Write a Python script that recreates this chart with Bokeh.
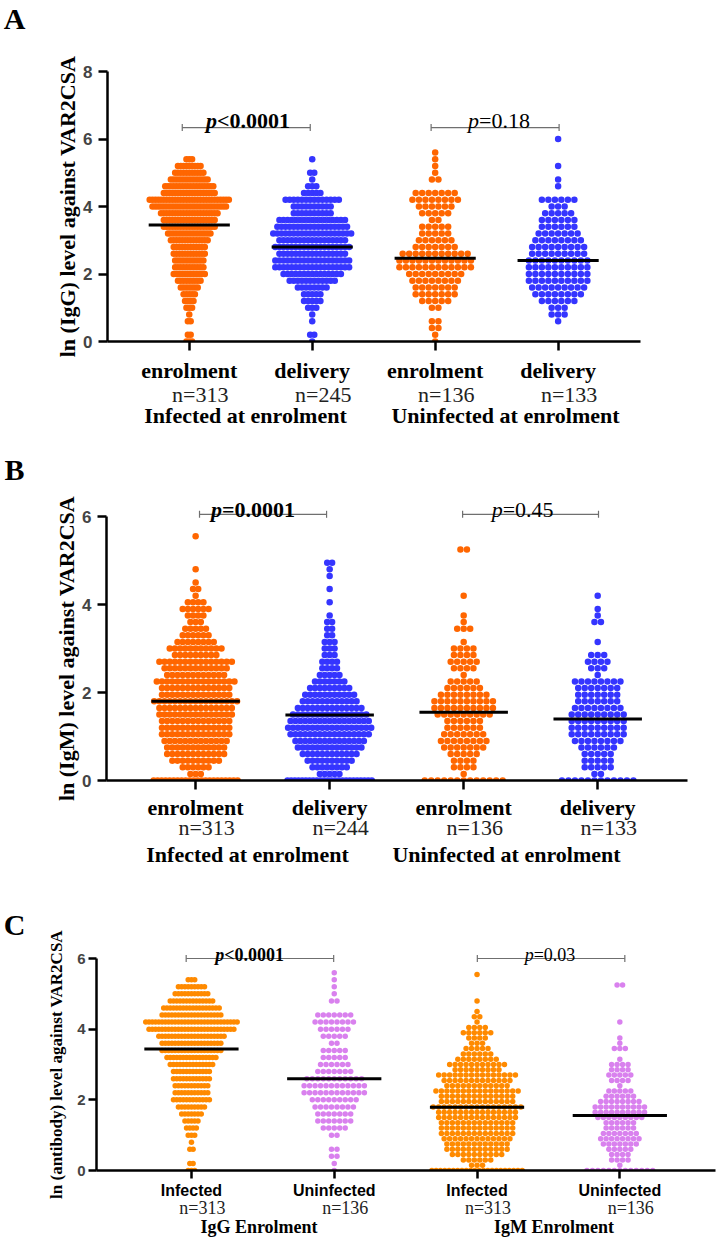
from bokeh.plotting import figure
from bokeh.models import FixedTicker, Label, LinearAxis
from bokeh.embed import file_html
from bokeh.resources import INLINE

# ---------------- data ----------------
CATS = [1, 2, 3, 4]

# IgG levels (ln) -- row values, step 0.2
A_LEVELS = [0.0, 0.2, 0.4, 0.6, 0.8, 1.0, 1.2, 1.4, 1.6, 1.8, 2.0, 2.2, 2.4, 2.6, 2.8,
            3.0, 3.2, 3.4, 3.6, 3.8, 4.0, 4.2, 4.4, 4.6, 4.8, 5.0, 5.2, 5.4, 5.6, 5.8, 6.0]
A_INF_ENROL = [3, 2, 0, 2, 1, 3, 4, 5, 7, 9, 12, 11, 11, 12, 12, 14, 16, 19, 19, 21, 27, 29,
               19, 18, 14, 11, 9, 3, 0, 0, 0]                      # n=313
A_INF_DELIV = [1, 2, 0, 1, 1, 3, 5, 5, 8, 12, 15, 19, 19, 17, 19, 17, 20, 18, 17, 10, 10, 14,
               5, 3, 1, 2, 0, 1, 0, 0, 0]                          # n=245
A_UNINF_ENROL = [1, 1, 2, 2, 0, 2, 5, 7, 7, 8, 9, 12, 12, 11, 7, 6, 5, 5, 2, 5, 6, 8, 7, 0, 2,
                 1, 1, 1, 1, 0, 0]                                 # n=136
A_UNINF_DELIV = [0, 0, 0, 1, 3, 3, 6, 8, 9, 10, 10, 10, 10, 9, 9, 8, 7, 6, 6, 5, 3, 6, 0, 1, 1,
                 0, 1, 0, 0, 0, 1]                                 # n=133
A_MEANS = [3.45, 2.80, 2.47, 2.40]

# IgM levels (ln) -- row values, step 0.15
B_LEVELS = [0.0, 0.15, 0.3, 0.45, 0.6, 0.75, 0.9, 1.05, 1.2, 1.35, 1.5, 1.65, 1.8, 1.95, 2.1,
            2.25, 2.4, 2.55, 2.7, 2.85, 3.0, 3.15, 3.3, 3.45, 3.6, 3.75, 3.9, 4.05, 4.2, 4.35,
            4.5, 4.65, 4.8, 4.95, 5.1, 5.25, 5.4, 5.55]
B_INF_ENROL = [22, 3, 6, 10, 12, 12, 13, 14, 14, 14, 15, 15, 17, 14, 14, 16, 12, 13, 15, 9,
               11, 8, 6, 5, 3, 4, 6, 4, 1, 2, 1, 0, 1, 0, 0, 0, 0, 1]   # n=313
B_INF_DELIV = [24, 5, 8, 10, 12, 14, 15, 17, 18, 17, 16, 14, 12, 11, 9, 7, 5, 4, 4, 3, 3, 3,
               2, 2, 2, 1, 0, 1, 0, 1, 0, 1, 1, 2, 0, 0, 0, 0]          # n=244
B_UNINF_ENROL = [13, 1, 4, 4, 5, 7, 8, 7, 6, 6, 9, 10, 10, 8, 6, 5, 1, 4, 5, 4, 4, 1, 0, 3, 1,
                 1, 0, 0, 1, 0, 0, 0, 0, 0, 0, 2, 0, 0]                 # n=136
B_UNINF_DELIV = [12, 2, 5, 5, 5, 6, 8, 9, 9, 9, 9, 8, 7, 7, 7, 8, 1, 3, 4, 3, 0, 1, 0, 0, 2,
                 1, 1, 0, 1, 0, 0, 0, 0, 0, 0, 0, 0, 0]                 # n=133
B_MEANS = [1.80, 1.49, 1.55, 1.40]

C_MEANS = [3.44, 2.60, 1.79, 1.56]

A_XLABELS = ["enrolment", "delivery", "enrolment", "delivery"]
A_NLABELS = ["n=313", "n=245", "n=136", "n=133"]
B_NLABELS = ["n=313", "n=244", "n=136", "n=133"]
AB_GROUPS = ["Infected at enrolment", "Uninfected at enrolment"]
C_XLABELS = ["Infected", "Uninfected", "Infected", "Uninfected"]
C_NLABELS = ["n=313", "n=136", "n=313", "n=136"]
C_GROUPS = ["IgG Enrolment", "IgM Enrolment"]

A_PVALS = ["<0.0001", "=0.18"]
B_PVALS = ["=0.0001", "=0.45"]
C_PVALS = ["<0.0001", "=0.03"]
PVAL_BOLD = [True, False]

A_BRACKETS = [(0.943, 1.984), (2.967, 4.008)]
B_BRACKETS = [(1.029, 1.977), (2.992, 4.006)]
C_BRACKETS = [(0.963, 1.996), (3.002, 4.035)]

ORANGE_AB = "#FF6600"
BLUE = "#3535FF"
ORANGE_C = "#FF8A00"
VIOLET = "#D981EE"

XSTART, XEND = 0.335, 4.67
W = 717


def swarm(levels, counts, cat, d, wmax, kx):
    nz = [c for lv, c in zip(levels, counts) if lv > 0]
    s = min(d, wmax / max(nz))
    xs, ys = [], []
    for lv, k in zip(levels, counts):
        if k == 0:
            continue
        sp = min(s, wmax / k)
        for j in range(k):
            off = (j - (k - 1) / 2.0) * sp
            xs.append(cat + off / kx)
            ys.append(lv)
    return xs, ys


def text_axis(ticks, labels, standoff, font, size, style, color, orient=None):
    ticks = [round(t, 4) for t in ticks]
    ax = LinearAxis(ticker=FixedTicker(ticks=ticks),
                    major_label_overrides={t: s for t, s in zip(ticks, labels)})
    ax.axis_line_color = None
    ax.major_tick_line_color = None
    ax.minor_tick_line_color = None
    ax.major_tick_out = 0
    ax.major_tick_in = 0
    ax.minor_tick_out = 0
    ax.major_label_standoff = standoff
    ax.major_label_text_font = font
    ax.major_label_text_font_size = size
    ax.major_label_text_font_style = style
    ax.major_label_text_color = color
    if orient is not None:
        ax.major_label_orientation = orient
    return ax


def panel(cfg):
    H, L, R, T, B = cfg["H"], cfg["L"], cfg["R"], cfg["T"], cfg["B"]
    ky = cfg["ky"]
    frame_h = H - T - B
    yend = frame_h / ky
    p = figure(width=W, height=H, x_range=(XSTART, XEND), y_range=(0, yend),
               output_backend="svg", toolbar_location=None,
               min_border_left=L, min_border_right=R, min_border_top=T, min_border_bottom=B)
    p.outline_line_color = None
    p.grid.visible = False
    p.background_fill_color = "white"
    kx = (W - L - R) / (XEND - XSTART)
    bottom_page = cfg["page_top"] + T + frame_h

    def X(px):
        return XSTART + (px - L) / kx

    def Y(py):
        return (bottom_page - py) / ky

    # points
    for (levels, counts), cat, col in zip(cfg["groups"], CATS, cfg["colors"]):
        xs, ys = swarm(levels, counts, cat, cfg["d"], cfg["wmax"], kx)
        p.scatter(xs, ys, size=cfg["d"], fill_color=col, line_color=None, marker="circle")
    # central lines
    hw = 0.33
    p.segment(x0=[c - hw for c in CATS], x1=[c + hw for c in CATS], y0=cfg["means"],
              y1=cfg["means"], line_color="black", line_width=3)
    # brackets
    by = cfg["bracket_y"]
    cap = 3.5 / ky
    for (b0, b1) in cfg["brackets"]:
        p.segment(x0=[b0, b0, b1], x1=[b1, b0, b1], y0=[by, by - cap, by - cap],
                  y1=[by, by + cap, by + cap], line_color="#6f6f6f", line_width=1.2)
    for (b0, b1), txt, bold, pc in zip(cfg["brackets"], cfg["pvals"], PVAL_BOLD, cfg["pcenter"]):
        fs = cfg["pfs"]
        tot = (0.5 + (3.32 if bold else 2.314))
        split = (-tot / 2 + 0.5) * fs
        p.add_layout(Label(x=pc, y=cfg["p_base"], x_offset=split, text="p",
                           text_align="right", text_baseline="alphabetic",
                           text_font="Liberation Serif",
                           text_font_style="bold italic" if bold else "italic",
                           text_font_size=f"{fs}px", text_color="black"))
        p.add_layout(Label(x=pc, y=cfg["p_base"], x_offset=split, text=txt,
                           text_align="left", text_baseline="alphabetic",
                           text_font="Liberation Serif",
                           text_font_style="bold" if bold else "normal",
                           text_font_size=f"{fs}px", text_color="black"))

    # value axis
    ya = p.yaxis[0]
    ya.ticker = FixedTicker(ticks=cfg["yticks"])
    ya.bounds = (0, cfg["ymax"])
    ya.axis_line_width = 2.5
    ya.major_tick_line_width = 2.5
    ya.major_tick_out = cfg["tick_out"]
    ya.major_tick_in = 0
    ya.minor_tick_line_color = None
    ya.major_label_text_font = "Liberation Sans"
    ya.major_label_text_font_style = "bold"
    ya.major_label_text_font_size = cfg["ytick_fs"]
    ya.major_label_standoff = cfg["ytick_standoff"]

    # y title (centred on the drawn axis) and panel letter, stacked to the left
    p.add_layout(text_axis([cfg["ymax"] / 2.0], [cfg["ylabel"]], cfg["ylabel_standoff"],
                           "Liberation Serif", cfg["ylabel_fs"], "bold", "black",
                           orient="vertical"), "left")
    p.add_layout(text_axis([Y(cfg["letter_py"])], [cfg["letter"]], cfg["letter_standoff"],
                           "Liberation Serif", "30px", "bold", "black"), "left")

    xa = p.xaxis[0]
    xa.ticker = FixedTicker(ticks=CATS)
    xa.major_label_overrides = {c: t for c, t in zip(CATS, cfg["xlabels"])}
    xa.axis_line_width = 2.5
    xa.major_tick_line_width = 2.5
    xa.major_tick_out = cfg["tick_out"]
    xa.major_tick_in = 0
    xa.minor_tick_line_color = None
    xa.major_label_text_font = cfg["xlab_font"]
    xa.major_label_text_font_style = "bold"
    xa.major_label_text_font_size = cfg["xlab_fs"]
    xa.major_label_text_color = "black"
    xa.major_label_standoff = cfg["xlab_standoff"]

    # n labels and group labels as extra label rows below the axis
    p.add_layout(text_axis([c + 11.0 / kx for c in CATS], cfg["nlabels"], cfg["n_standoff"],
                           "Liberation Serif", cfg["n_fs"], "normal", "#222222"), "below")
    p.add_layout(text_axis([X(px) for px in cfg["group_px"]], cfg["groups_txt"],
                           cfg["group_standoff"], "Liberation Serif", cfg["group_fs"],
                           "bold", "black"), "below")
    return p


cfgA = dict(H=430, L=107, R=77, T=10, B=89, ky=33.75, page_top=0, ymax=8,
            yticks=[0, 2, 4, 6, 8], d=6.5, wmax=82,
            groups=[(A_LEVELS, A_INF_ENROL), (A_LEVELS, A_INF_DELIV),
                    (A_LEVELS, A_UNINF_ENROL), (A_LEVELS, A_UNINF_DELIV)],
            colors=[ORANGE_AB, BLUE, ORANGE_AB, BLUE], means=A_MEANS,
            brackets=A_BRACKETS, bracket_y=6.34, pvals=A_PVALS, pcenter=[1.478, 3.519],
            p_base=6.55, pfs=22, tick_out=9, ytick_fs="17px", ytick_standoff=6,
            ylabel="ln (IgG) level against VAR2CSA", ylabel_fs="22px", ylabel_standoff=1,
            letter="A", letter_py=18, letter_standoff=26,
            xlabels=A_XLABELS, xlab_font="Liberation Serif", xlab_fs="22px", xlab_standoff=7,
            nlabels=A_NLABELS, n_standoff=-4, n_fs="22px", group_px=[245, 505],
            group_standoff=-7, groups_txt=AB_GROUPS, group_fs="22px")

cfgB = dict(H=439, L=106, R=30, T=35, B=89, ky=44.0, page_top=430, ymax=6,
            yticks=[0, 2, 4, 6], d=6.5, wmax=88,
            groups=[(B_LEVELS, B_INF_ENROL), (B_LEVELS, B_INF_DELIV),
                    (B_LEVELS, B_UNINF_ENROL), (B_LEVELS, B_UNINF_DELIV)],
            colors=[ORANGE_AB, BLUE, ORANGE_AB, BLUE], means=B_MEANS,
            brackets=B_BRACKETS, bracket_y=6.05, pvals=B_PVALS, pcenter=[1.428, 3.44],
            p_base=6.16, pfs=22, tick_out=9, ytick_fs="17px", ytick_standoff=6,
            ylabel="ln (IgM) level against VAR2CSA", ylabel_fs="22px", ylabel_standoff=1,
            letter="B", letter_py=469, letter_standoff=26,
            xlabels=A_XLABELS, xlab_font="Liberation Serif", xlab_fs="22px", xlab_standoff=5,
            nlabels=B_NLABELS, n_standoff=-8, n_fs="22px", group_px=[247, 506],
            group_standoff=-1, groups_txt=AB_GROUPS, group_fs="22px")

cfgC = dict(H=370, L=94, R=2, T=51, B=69, ky=35.33, page_top=869, ymax=6,
            yticks=[0, 2, 4, 6], d=5.5, wmax=95,
            groups=[(A_LEVELS, A_INF_ENROL), (A_LEVELS, A_UNINF_ENROL),
                    (B_LEVELS, B_INF_ENROL), (B_LEVELS, B_UNINF_ENROL)],
            colors=[ORANGE_C, VIOLET, ORANGE_C, VIOLET], means=C_MEANS,
            brackets=C_BRACKETS, bracket_y=6.0, pvals=C_PVALS, pcenter=[1.407, 3.511],
            p_base=6.11, pfs=18, tick_out=8, ytick_fs="15px", ytick_standoff=3,
            ylabel="ln (antibody) level against VAR2CSA", ylabel_fs="17px", ylabel_standoff=8,
            letter="C", letter_py=924, letter_standoff=19,
            xlabels=C_XLABELS, xlab_font="Liberation Sans", xlab_fs="16px", xlab_standoff=3,
            nlabels=C_NLABELS, n_standoff=-4, n_fs="18px", group_px=[257, 553],
            group_standoff=-4, groups_txt=C_GROUPS, group_fs="18px")

# three independent roots, stacked one under another (no shared frame alignment)
figs = [panel(cfgA), panel(cfgB), panel(cfgC)]
open("out.html", "w").write(file_html(figs, INLINE))
